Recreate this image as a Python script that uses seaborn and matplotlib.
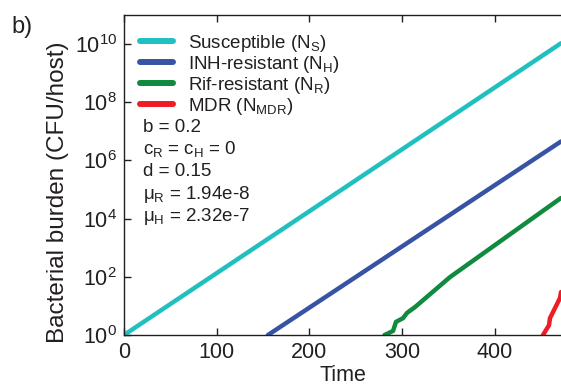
import numpy as np
import pandas as pd
import matplotlib
matplotlib.use("Agg")
import matplotlib.pyplot as plt
import seaborn as sns

# ---- data ----
series_names = ["Susceptible ($N_S$)", "INH-resistant ($N_H$)",
                "Rif-resistant ($N_R$)", "MDR ($N_{MDR}$)"]
s_time = [0, 471.4]
s_val = [1.0, 1.07e10]
h_time = [155.3, 471.4]
h_val = [1.0, 4.5e6]
r_time = [281.0, 290.2, 293.4, 301.0, 305.3, 313.9, 351.7, 471.4]
r_val = [1.0, 1.38, 2.82, 3.8, 5.75, 9.1, 98.0, 5.13e4]
m_time = [452.0, 458.5, 459.5, 465.0, 470.3, 471.4]
m_val = [1.0, 2.19, 3.8, 8.5, 18.6, 30.0]
colors = ["#1FC0BF", "#3953A4", "#0F8A3E", "#EE1C25"]
param_lines = ["b = 0.2", "$c_R$ = $c_H$ = 0", "d = 0.15",
               "μ$_R$ = 1.94e-8", "μ$_H$ = 2.32e-7"]
x_ticks = [0, 100, 200, 300, 400]
y_ticks = [1e0, 1e2, 1e4, 1e6, 1e8, 1e10]

frames = []
for name, t, v in zip(series_names, [s_time, h_time, r_time, m_time],
                      [s_val, h_val, r_val, m_val]):
    frames.append(pd.DataFrame({"Time": t, "N": v, "series": name}))
df = pd.concat(frames, ignore_index=True)

sns.set_theme(style="ticks")
plt.rcParams["font.family"] = ["Liberation Sans", "DejaVu Sans"]
plt.rcParams["mathtext.fontset"] = "custom"
plt.rcParams["mathtext.rm"] = "Liberation Sans"
plt.rcParams["mathtext.it"] = "Liberation Sans"
plt.rcParams["mathtext.bf"] = "Liberation Sans:bold"
plt.rcParams["mathtext.default"] = "regular"

fig = plt.figure(figsize=(5.61, 3.86), dpi=100)
W, H = 561, 386
ax_l, ax_r, ax_t, ax_b = 124, 561, 15, 335
ax = fig.add_axes([ax_l / W, 1 - ax_b / H, (ax_r - ax_l) / W, (ax_b - ax_t) / H])

sns.lineplot(data=df, x="Time", y="N", hue="series", hue_order=series_names,
             palette=colors, linewidth=3.2, ax=ax, estimator=None, sort=False)

ax.set_yscale("log")
ax.set_xlim(0, 471.4)
ax.set_ylim(1, 1e11)
ax.set_xticks(x_ticks)
ax.set_yticks(y_ticks)
ax.yaxis.set_minor_locator(matplotlib.ticker.NullLocator())
ax.tick_params(axis="both", which="major", direction="in", length=5, width=1,
               labelsize=15.5, pad=5, colors="#231F20")
ax.tick_params(axis="x", top=True)
ax.tick_params(axis="y", right=False)
for s in ["left", "bottom", "top"]:
    ax.spines[s].set_visible(True)
    ax.spines[s].set_linewidth(1)
    ax.spines[s].set_color("#231F20")
ax.spines["right"].set_visible(False)

ax.set_xlabel("Time", fontsize=15.5, labelpad=1.5, color="#231F20")
ax.set_ylabel("Bacterial burden (CFU/host)", fontsize=17.5, labelpad=4, color="#231F20")
ax.yaxis.label.set_y(0.445)

leg = ax.legend(loc="upper left", bbox_to_anchor=(16 / 437, 1 - 18 / 320),
                frameon=False, fontsize=13.5, handlelength=1.75, handletextpad=0.8,
                labelspacing=0.0, borderpad=0, borderaxespad=0)
for line in leg.get_lines():
    line.set_linewidth(4.3)
for txt in leg.get_texts():
    txt.set_color("#231F20")

baselines = [132, 154, 176, 199, 221]
for txt, yb in zip(param_lines, baselines):
    ax.text((143 - ax_l) / 437, (ax_b - yb) / 320, txt, transform=ax.transAxes,
            fontsize=13.5, va="baseline", ha="left", color="#231F20")

fig.text(11 / W, 1 - 33 / H, "b)", fontsize=17, va="baseline", ha="left", color="#231F20")

fig.savefig("out.png", dpi=100)
